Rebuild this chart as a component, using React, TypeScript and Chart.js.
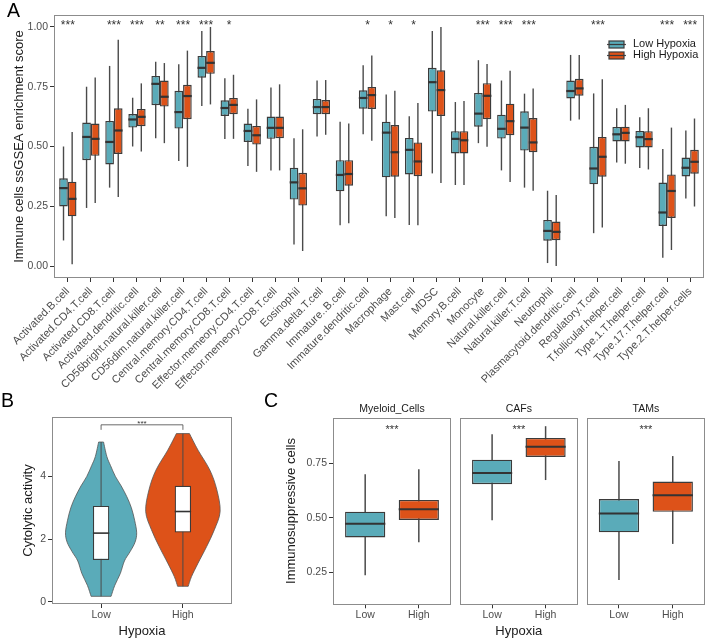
import React, { useEffect, useRef } from "react";
import { Chart, registerables } from "chart.js";
Chart.register(...registerables);

const FONT = "'Liberation Sans', Arial, Helvetica, sans-serif";
Chart.defaults.font.family = FONT;

const TEAL = "#5aabb9";
const ORANGE = "#dd5219";
const EDGE = "#3b3b3b";
const WHISKER = "#4a4a4a";
const FRAME = "#8c8c8c";
const TICK_TEXT = "#4d4d4d";
const TITLE_TEXT = "#1a1a1a";

// ---------------- Panel A data ----------------
const cellTypes = [
  "Activated.B.cell", "Activated.CD4.T.cell", "Activated.CD8.T.cell", "Activated.dendritic.cell",
  "CD56bright.natural.killer.cell", "CD56dim.natural.killer.cell", "Central.memory.CD4.T.cell",
  "Central.memory.CD8.T.cell", "Effector.memeory.CD4.T.cell", "Effector.memeory.CD8.T.cell",
  "Eosinophil", "Gamma.delta.T.cell", "Immature..B.cell", "Immature.dendritic.cell", "Macrophage",
  "Mast.cell", "MDSC", "Memory.B.cell", "Monocyte", "Natural.killer.cell", "Natural.killer.T.cell",
  "Neutrophil", "Plasmacytoid.dendritic.cell", "Regulatory.T.cell", "T.follicular.helper.cell",
  "Type.1.T.helper.cell", "Type.17.T.helper.cell", "Type.2.T.helper.cells",
];
const significance = [
  "***", "", "***", "***", "**", "***", "***", "*", "", "", "", "", "", "*", "*", "*", "", "",
  "***", "***", "***", "", "", "***", "", "", "***", "***",
];
const groupNames = ["Low Hypoxia", "High Hypoxia"];

const lowMin = [0.107, 0.243, 0.328, 0.5, 0.535, 0.439, 0.669, 0.531, 0.418, 0.4, 0.09, 0.542, 0.171, 0.551, 0.208, 0.172, 0.3875, 0.339, 0.514, 0.4, 0.328, 0.0125, 0.608, 0.1375, 0.433, 0.41, 0.035, 0.283];
const lowQ1 = [0.249, 0.443, 0.425, 0.579, 0.673, 0.575, 0.7875, 0.628, 0.519, 0.532, 0.278, 0.635, 0.3125, 0.658, 0.371, 0.383, 0.646, 0.471, 0.583, 0.533, 0.483, 0.106, 0.701, 0.342, 0.521, 0.496, 0.168, 0.375];
const lowMedian = [0.326, 0.54, 0.519, 0.613, 0.762, 0.644, 0.829, 0.661, 0.565, 0.578, 0.35, 0.665, 0.381, 0.703, 0.558, 0.486, 0.769, 0.532, 0.6375, 0.574, 0.579, 0.147, 0.732, 0.408, 0.551, 0.539, 0.224, 0.411];
const lowQ3 = [0.367, 0.6, 0.607, 0.636, 0.795, 0.733, 0.879, 0.693, 0.596, 0.625, 0.411, 0.699, 0.443, 0.735, 0.604, 0.536, 0.829, 0.564, 0.724, 0.633, 0.647, 0.193, 0.776, 0.499, 0.582, 0.565, 0.349, 0.454];
const lowMax = [0.5, 0.75, 0.837, 0.704, 0.854, 0.844, 0.983, 0.785, 0.658, 0.747, 0.535, 0.776, 0.604, 0.84, 0.718, 0.626, 0.983, 0.686, 0.861, 0.776, 0.721, 0.315, 0.883, 0.722, 0.66, 0.622, 0.49, 0.567];

const highMin = [0.007, 0.264, 0.289, 0.479, 0.514, 0.415, 0.676, 0.532, 0.394, 0.4, 0.063, 0.549, 0.179, 0.524, 0.201, 0.171, 0.347, 0.339, 0.499, 0.351, 0.315, 0.0, 0.6125, 0.161, 0.428, 0.404, 0.067, 0.249];
const highQ1 = [0.208, 0.461, 0.469, 0.585, 0.667, 0.614, 0.804, 0.635, 0.508, 0.535, 0.253, 0.635, 0.336, 0.657, 0.374, 0.376, 0.628, 0.471, 0.614, 0.547, 0.476, 0.108, 0.7125, 0.374, 0.521, 0.496, 0.201, 0.386];
const highMedian = [0.281, 0.532, 0.567, 0.624, 0.708, 0.711, 0.85, 0.674, 0.547, 0.578, 0.325, 0.665, 0.385, 0.715, 0.476, 0.4375, 0.736, 0.526, 0.712, 0.606, 0.517, 0.143, 0.743, 0.457, 0.557, 0.531, 0.314, 0.436];
const highQ3 = [0.353, 0.596, 0.66, 0.657, 0.776, 0.758, 0.899, 0.703, 0.586, 0.625, 0.39, 0.694, 0.443, 0.749, 0.59, 0.517, 0.819, 0.564, 0.765, 0.679, 0.619, 0.186, 0.783, 0.54, 0.583, 0.564, 0.383, 0.486];
const highMax = [0.561, 0.789, 0.946, 0.764, 0.849, 0.901, 1.0, 0.8, 0.697, 0.76, 0.572, 0.778, 0.596, 0.881, 0.733, 0.682, 1.0, 0.69, 0.845, 0.817, 0.743, 0.297, 0.883, 0.781, 0.674, 0.66, 0.579, 0.617];

const scoreTicks = [0, 0.25, 0.5, 0.75, 1];

// ---------------- Panel B data ----------------
const hypoxiaLevels = ["Low", "High"];
const cytolyticMin = [0.17, 0.49];
const cytolyticQ1 = [1.33, 2.21];
const cytolyticMedian = [2.19, 2.88];
const cytolyticQ3 = [3.06, 3.7];
const cytolyticMax = [5.1, 5.37];
const violinLowValues = [0.17, 0.52, 0.9, 1.3, 1.6, 1.9, 2.2, 2.6, 3.0, 3.35, 3.7, 4.0, 4.35, 4.64, 5.1];
const violinLowHalfWidths = [0.122, 0.167, 0.235, 0.285, 0.355, 0.415, 0.435, 0.41, 0.37, 0.315, 0.245, 0.175, 0.115, 0.07, 0.03];
const violinHighValues = [0.49, 0.8, 1.23, 1.76, 2.3, 2.88, 3.57, 4.2, 4.84, 5.37];
const violinHighHalfWidths = [0.065, 0.105, 0.185, 0.29, 0.385, 0.455, 0.415, 0.33, 0.185, 0.08];
const cytolyticTicks = [0, 2, 4];
const cytolyticSignif = "***";
const bracketTop = 5.65;
const bracketFoot = 5.49;

// ---------------- Panel C data ----------------
const facetNames = ["Myeloid_Cells", "CAFs", "TAMs"];
const facetSignif = ["***", "***", "***"];
const suppLowMin = [0.236, 0.489, 0.214];
const suppLowQ1 = [0.41, 0.654, 0.433];
const suppLowMedian = [0.473, 0.705, 0.52];
const suppLowQ3 = [0.528, 0.7665, 0.586];
const suppLowMax = [0.6995, 0.883, 0.76];
const suppHighMin = [0.388, 0.673, 0.38];
const suppHighQ1 = [0.49, 0.779, 0.527];
const suppHighMedian = [0.539, 0.826, 0.603];
const suppHighQ3 = [0.582, 0.866, 0.666];
const suppHighMax = [0.7225, 0.92, 0.783];
const suppTicks = [0.25, 0.5, 0.75];

// ---------------- helpers ----------------
const framePlugin = {
  id: "frame",
  afterDraw(chart: any) {
    const { ctx, chartArea: a } = chart;
    ctx.save();
    ctx.strokeStyle = FRAME;
    ctx.lineWidth = 1;
    ctx.strokeRect(Math.round(a.left) + 0.5, Math.round(a.top) + 0.5, Math.round(a.right - a.left) - 1, Math.round(a.bottom - a.top) - 1);
    ctx.restore();
  },
};

const boxPlugin = {
  id: "boxExtras",
  beforeDatasetsDraw(chart: any) {
    const ys = chart.scales.y;
    const ctx = chart.ctx;
    chart.data.datasets.forEach((ds: any, i: number) => {
      if (!ds.whiskerLow) return;
      const meta = chart.getDatasetMeta(i);
      ctx.save();
      ctx.strokeStyle = WHISKER;
      ctx.lineWidth = ds.whiskerWidth || 1.4;
      meta.data.forEach((el: any, j: number) => {
        ctx.beginPath();
        ctx.moveTo(el.x, ys.getPixelForValue(ds.whiskerLow[j]));
        ctx.lineTo(el.x, ys.getPixelForValue(ds.whiskerHigh[j]));
        ctx.stroke();
      });
      ctx.restore();
    });
  },
  afterDatasetsDraw(chart: any) {
    const ys = chart.scales.y;
    const ctx = chart.ctx;
    chart.data.datasets.forEach((ds: any, i: number) => {
      if (!ds.medians) return;
      const meta = chart.getDatasetMeta(i);
      ctx.save();
      ctx.strokeStyle = "#333333";
      ctx.lineWidth = ds.medianWidth || 2;
      meta.data.forEach((el: any, j: number) => {
        const y = ys.getPixelForValue(ds.medians[j]);
        ctx.beginPath();
        ctx.moveTo(el.x - el.width / 2, y);
        ctx.lineTo(el.x + el.width / 2, y);
        ctx.stroke();
      });
      ctx.restore();
    });
  },
};

function tickGrid() {
  return { display: true, drawOnChartArea: false, drawTicks: true, tickLength: 4, color: "#333333", lineWidth: 1, offset: false };
}

function yAxis(min: number, max: number, ticks: number[], fmt: (v: number) => string, title: string, titlePad: number, width: number, show = true) {
  return {
    type: "linear",
    display: show,
    min,
    max,
    afterBuildTicks: (s: any) => {
      s.ticks = ticks.map((v) => ({ value: v }));
    },
    afterFit: (s: any) => {
      if (show) s.width = width;
    },
    grid: tickGrid(),
    border: { display: false },
    ticks: { color: TICK_TEXT, font: { family: FONT, size: 10.5 }, padding: 2, callback: (v: any) => fmt(Number(v)) },
    title: { display: !!title, text: title, color: TITLE_TEXT, font: { family: FONT, size: 13 }, padding: { top: titlePad, bottom: 0 } },
  };
}

function xGroupAxis(labels: string[], height: number, title: string) {
  return {
    type: "linear",
    min: 0.4,
    max: labels.length + 0.6,
    offset: false,
    afterBuildTicks: (s: any) => {
      s.ticks = labels.map((_, i) => ({ value: i + 1 }));
    },
    afterFit: (s: any) => {
      s.height = height;
    },
    grid: tickGrid(),
    border: { display: false },
    ticks: { color: TICK_TEXT, font: { family: FONT, size: 10.5 }, padding: 1, maxRotation: 0, autoSkip: false, callback: (v: any) => labels[Math.round(Number(v)) - 1] ?? "" },
    title: { display: !!title, text: title, color: TITLE_TEXT, font: { family: FONT, size: 13 }, padding: { top: 0, bottom: 1 } },
  };
}

function catmull(ctx: CanvasRenderingContext2D, pts: { x: number; y: number }[]) {
  for (let i = 0; i < pts.length - 1; i++) {
    const p0 = pts[i - 1] || pts[i];
    const p1 = pts[i];
    const p2 = pts[i + 1];
    const p3 = pts[i + 2] || p2;
    ctx.bezierCurveTo(
      p1.x + (p2.x - p0.x) / 6, p1.y + (p2.y - p0.y) / 6,
      p2.x - (p3.x - p1.x) / 6, p2.y - (p3.y - p1.y) / 6,
      p2.x, p2.y
    );
  }
}

const baseOptions = {
  animation: false,
  responsive: false,
  devicePixelRatio: 1,
  events: [],
};

// ---------------- configs ----------------
function configA(): any {
  const starsPlugin = {
    id: "starsA",
    afterDatasetsDraw(chart: any) {
      const xs = chart.scales.x;
      const ctx = chart.ctx;
      ctx.save();
      ctx.font = `12px ${FONT}`;
      ctx.fillStyle = "#333333";
      ctx.textAlign = "center";
      ctx.textBaseline = "alphabetic";
      significance.forEach((s, i) => {
        if (s) ctx.fillText(s, xs.getPixelForValue(i + 1), chart.chartArea.top + 13.5);
      });
      ctx.restore();
    },
  };
  const legendPlugin = {
    id: "legendA",
    afterDatasetsDraw(chart: any) {
      const ctx = chart.ctx;
      const a = chart.chartArea;
      const x0 = a.right - 96;
      const rows = [
        { y: a.top + 29.5, color: TEAL, label: groupNames[0] },
        { y: a.top + 40.5, color: ORANGE, label: groupNames[1] },
      ];
      ctx.save();
      rows.forEach((r) => {
        ctx.strokeStyle = WHISKER;
        ctx.lineWidth = 1.2;
        ctx.beginPath();
        ctx.moveTo(x0 - 1, r.y);
        ctx.lineTo(x0 + 18, r.y);
        ctx.stroke();
        ctx.fillStyle = r.color;
        ctx.fillRect(x0 + 1, r.y - 3.5, 15, 7);
        ctx.strokeStyle = EDGE;
        ctx.strokeRect(x0 + 1, r.y - 3.5, 15, 7);
        ctx.beginPath();
        ctx.moveTo(x0 + 1, r.y);
        ctx.lineTo(x0 + 16, r.y);
        ctx.stroke();
        ctx.fillStyle = TITLE_TEXT;
        ctx.font = `11px ${FONT}`;
        ctx.textAlign = "left";
        ctx.textBaseline = "middle";
        ctx.fillText(r.label, x0 + 25, r.y - 0.8);
      });
      ctx.restore();
    },
  };
  const mk = (label: string, color: string, q1: number[], q3: number[], mn: number[], mx: number[], md: number[]) => ({
    label,
    data: cellTypes.map((_, i) => ({ x: i + 1, y: [q1[i], q3[i]] })),
    backgroundColor: color,
    borderColor: EDGE,
    borderWidth: 1.4,
    borderSkipped: false,
    categoryPercentage: 0.75,
    barPercentage: 1,
    whiskerLow: mn,
    whiskerHigh: mx,
    medians: md,
    medianWidth: 2.2,
  });
  return {
    type: "bar",
    data: {
      datasets: [
        mk(groupNames[0], TEAL, lowQ1, lowQ3, lowMin, lowMax, lowMedian),
        mk(groupNames[1], ORANGE, highQ1, highQ3, highMin, highMax, highMedian),
      ],
    },
    options: {
      ...baseOptions,
      layout: { padding: { top: 15, right: 4, left: 0, bottom: 0 } },
      plugins: { legend: { display: false }, tooltip: { enabled: false } },
      scales: {
        x: {
          type: "linear",
          min: 0.4,
          max: cellTypes.length + 0.6,
          offset: false,
          afterBuildTicks: (s: any) => {
            s.ticks = cellTypes.map((_, i) => ({ value: i + 1 }));
          },
          afterFit: (s: any) => {
            s.height = 117;
          },
          grid: tickGrid(),
          border: { display: false },
          ticks: {
            color: TICK_TEXT,
            font: { family: FONT, size: 11 },
            padding: 3,
            autoSkip: false,
            minRotation: 45,
            maxRotation: 45,
            callback: (v: any) => cellTypes[Math.round(Number(v)) - 1] ?? "",
          },
        },
        y: yAxis(-0.05, 1.05, scoreTicks, (v) => v.toFixed(2), "Immune cells ssGSEA enrichment score", 12, 54),
      },
    },
    plugins: [boxPlugin, framePlugin, starsPlugin, legendPlugin],
  };
}

function configB(): any {
  const violins = [
    { pos: 1, values: violinLowValues, half: violinLowHalfWidths, color: TEAL },
    { pos: 2, values: violinHighValues, half: violinHighHalfWidths, color: ORANGE },
  ];
  const violinPlugin = {
    id: "violins",
    beforeDatasetsDraw(chart: any) {
      const xs = chart.scales.x;
      const ys = chart.scales.y;
      const ctx = chart.ctx;
      ctx.save();
      violins.forEach((v) => {
        const cx = xs.getPixelForValue(v.pos);
        const right = v.values.map((val, i) => ({ x: xs.getPixelForValue(v.pos + v.half[i]), y: ys.getPixelForValue(val) }));
        const left = v.values.map((val, i) => ({ x: 2 * cx - xs.getPixelForValue(v.pos + v.half[i]), y: ys.getPixelForValue(val) })).reverse();
        ctx.beginPath();
        ctx.moveTo(right[0].x, right[0].y);
        catmull(ctx, right);
        ctx.lineTo(left[0].x, left[0].y);
        catmull(ctx, left);
        ctx.closePath();
        ctx.fillStyle = v.color;
        ctx.fill();
        ctx.strokeStyle = "#555555";
        ctx.lineWidth = 0.8;
        ctx.stroke();
      });
      ctx.restore();
    },
    afterDatasetsDraw(chart: any) {
      const xs = chart.scales.x;
      const ys = chart.scales.y;
      const ctx = chart.ctx;
      const x1 = xs.getPixelForValue(1);
      const x2 = xs.getPixelForValue(2);
      const yt = ys.getPixelForValue(bracketTop);
      const yf = ys.getPixelForValue(bracketFoot);
      ctx.save();
      ctx.strokeStyle = "#444444";
      ctx.lineWidth = 0.8;
      ctx.beginPath();
      ctx.moveTo(x1, yf);
      ctx.lineTo(x1, yt);
      ctx.lineTo(x2, yt);
      ctx.lineTo(x2, yf);
      ctx.stroke();
      ctx.fillStyle = "#333333";
      ctx.font = `8px ${FONT}`;
      ctx.textAlign = "center";
      ctx.textBaseline = "alphabetic";
      ctx.fillText(cytolyticSignif, (x1 + x2) / 2, yt + 1);
      ctx.restore();
    },
  };
  return {
    type: "bar",
    data: {
      datasets: [
        {
          label: "Cytolytic activity",
          data: hypoxiaLevels.map((_, i) => ({ x: i + 1, y: [cytolyticQ1[i], cytolyticQ3[i]] })),
          backgroundColor: "#ffffff",
          borderColor: EDGE,
          borderWidth: 1.2,
          borderSkipped: false,
          categoryPercentage: 0.2,
          barPercentage: 1,
          whiskerLow: cytolyticMin,
          whiskerHigh: cytolyticMax,
          whiskerWidth: 1,
          medians: cytolyticMedian,
          medianWidth: 1.6,
        },
      ],
    },
    options: {
      ...baseOptions,
      layout: { padding: { top: 22, right: 8, left: 0, bottom: 0 } },
      plugins: { legend: { display: false }, tooltip: { enabled: false } },
      scales: {
        x: xGroupAxis(hypoxiaLevels, 36, "Hypoxia"),
        y: yAxis(-0.075, 5.9, cytolyticTicks, (v) => String(v), "Cytolytic activity", 21, 52),
      },
    },
    plugins: [violinPlugin, boxPlugin, framePlugin],
  };
}

function configC(f: number, showY: boolean, xTitle: string, padL: number, padR: number): any {
  const starPlugin = {
    id: "starsC",
    afterDatasetsDraw(chart: any) {
      const xs = chart.scales.x;
      const ctx = chart.ctx;
      ctx.save();
      ctx.font = `11px ${FONT}`;
      ctx.fillStyle = "#333333";
      ctx.textAlign = "center";
      ctx.textBaseline = "alphabetic";
      ctx.fillText(facetSignif[f], xs.getPixelForValue(1.5), chart.chartArea.top + 15.3);
      ctx.restore();
    },
  };
  return {
    type: "bar",
    data: {
      datasets: [
        {
          label: facetNames[f],
          data: [
            { x: 1, y: [suppLowQ1[f], suppLowQ3[f]] },
            { x: 2, y: [suppHighQ1[f], suppHighQ3[f]] },
          ],
          backgroundColor: [TEAL, ORANGE],
          borderColor: EDGE,
          borderWidth: 1.4,
          borderSkipped: false,
          categoryPercentage: 0.75,
          barPercentage: 1,
          whiskerLow: [suppLowMin[f], suppHighMin[f]],
          whiskerHigh: [suppLowMax[f], suppHighMax[f]],
          whiskerWidth: 1.5,
          medians: [suppLowMedian[f], suppHighMedian[f]],
          medianWidth: 2,
        },
      ],
    },
    options: {
      ...baseOptions,
      layout: { padding: { top: 0, right: padR, left: padL, bottom: 0 } },
      plugins: {
        legend: { display: false },
        tooltip: { enabled: false },
        title: {
          display: true,
          text: facetNames[f],
          fullSize: false,
          color: TITLE_TEXT,
          font: { family: FONT, size: 10.5, weight: "normal" },
          padding: { top: 7.5, bottom: 2.6 },
        },
      },
      scales: {
        x: xGroupAxis(hypoxiaLevels, 35.7, xTitle),
        y: yAxis(0.103, 0.959, suppTicks, (v) => v.toFixed(2), showY ? "Immunosuppressive cells" : "", 14, 63, showY),
      },
    },
    plugins: [boxPlugin, framePlugin, starPlugin],
  };
}

const labelStyle = (left: number, top: number): React.CSSProperties => ({
  position: "absolute",
  left,
  top,
  fontFamily: FONT,
  fontSize: 19.5,
  lineHeight: "19.5px",
  color: "#000",
  zIndex: 2,
});

export default function App() {
  const refA = useRef<HTMLCanvasElement>(null);
  const refB = useRef<HTMLCanvasElement>(null);
  const refC1 = useRef<HTMLCanvasElement>(null);
  const refC2 = useRef<HTMLCanvasElement>(null);
  const refC3 = useRef<HTMLCanvasElement>(null);

  useEffect(() => {
    const charts = [
      new Chart(refA.current as HTMLCanvasElement, configA()),
      new Chart(refB.current as HTMLCanvasElement, configB()),
      new Chart(refC1.current as HTMLCanvasElement, configC(0, true, "", 0, 4)),
      new Chart(refC2.current as HTMLCanvasElement, configC(1, false, "Hypoxia", 5, 2.3)),
      new Chart(refC3.current as HTMLCanvasElement, configC(2, false, "", 4.7, 3)),
    ];
    return () => charts.forEach((c) => c.destroy());
  }, []);

  const cv = (left: number, top: number, w: number, h: number): React.CSSProperties => ({
    position: "absolute",
    left,
    top,
    width: w,
    height: h,
  });

  return (
    <div style={{ position: "absolute", left: 0, top: 0, width: 708, height: 640, background: "#ffffff", overflow: "hidden" }}>
      <canvas ref={refA} width={708} height={395} style={cv(0, 0, 708, 395)} />
      <canvas ref={refB} width={240} height={245} style={cv(0, 395, 240, 245)} />
      <canvas ref={refC1} width={185} height={245} style={cv(270, 395, 185, 245)} />
      <canvas ref={refC2} width={125} height={245} style={cv(455, 395, 125, 245)} />
      <canvas ref={refC3} width={126} height={245} style={cv(582, 395, 126, 245)} />
      <div style={labelStyle(7, 0.5)}>A</div>
      <div style={labelStyle(1, 390.5)}>B</div>
      <div style={labelStyle(264, 390.5)}>C</div>
    </div>
  );
}
